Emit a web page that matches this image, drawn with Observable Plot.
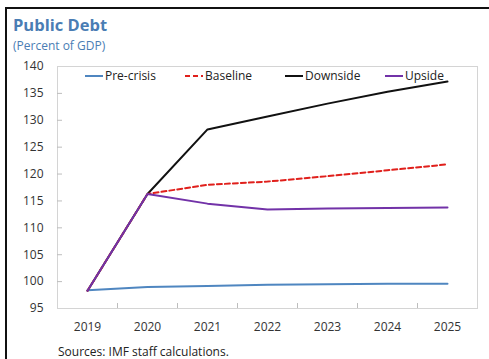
<!DOCTYPE html>
<html>
<head>
<meta charset="utf-8">
<script src="https://cdn.jsdelivr.net/npm/d3@7"></script>
<script src="https://cdn.jsdelivr.net/npm/@observablehq/plot@0.6"></script>
<style>
  html, body { margin: 0; padding: 0; background: #fff; }
  #wrap { position: relative; width: 489px; height: 359px; overflow: hidden; font-family: "Open Sans", "Noto Sans", sans-serif; }
  #wrap > svg { position: absolute; left: 0; top: 0; }
  .bTop { position: absolute; left: 5px; top: 7px; width: 484px; height: 2px; background: #111; }
  .bLeft { position: absolute; left: 5px; top: 7px; width: 2px; height: 352px; background: #111; }
  .title { position: absolute; left: 13px; top: 13px; font-size: 16.5px; font-weight: 700; color: #4a7db4; }
  .subtitle { position: absolute; left: 13px; top: 37px; font-size: 12px; color: #4a7db4; }
  .source { position: absolute; left: 58px; top: 343px; font-size: 12px; color: #222; }
  .legend { position: absolute; left: 85px; top: 67px; display: flex; font-size: 12px; color: #222; z-index: 2; }
  .legend .item { width: 100px; display: flex; align-items: center; }
  .legend .item svg { display: block; margin-right: 2px; }
</style>
</head>
<body>
<div id="wrap">
  <div class="bTop"></div>
  <div class="bLeft"></div>
  <div class="title">Public Debt</div>
  <div class="subtitle">(Percent of GDP)</div>
  <div class="legend" id="legend"></div>
  <div class="source">Sources: IMF staff calculations.</div>
</div>
<script>
const years = [2019, 2020, 2021, 2022, 2023, 2024, 2025];
const preCrisis = [98.4, 99.0, 99.2, 99.4, 99.5, 99.6, 99.6];
const baseline  = [98.3, 116.3, 118.0, 118.6, 119.6, 120.7, 121.8];
const downside  = [98.3, 116.3, 128.3, 130.7, 133.1, 135.3, 137.2];
const upside    = [98.3, 116.3, 114.5, 113.4, 113.6, 113.7, 113.8];
const yTicks = [95, 100, 105, 110, 115, 120, 125, 130, 135, 140];

const seriesNames = ["Pre-crisis", "Baseline", "Downside", "Upside"];
const seriesColors = ["#4f86c0", "#e0201c", "#111111", "#7232a8"];
const seriesDash = [null, "5,3", null, null];
const seriesValues = [preCrisis, baseline, downside, upside];

const rows = (vals) => years.map((y, i) => ({year: y, value: vals[i]}));
const bounds = years.slice(1).map(y => y - 0.5);

const drawOrder = [0, 2, 1, 3];

const chart = Plot.plot({
  width: 489,
  height: 359,
  marginLeft: 57,
  marginRight: 12,
  marginTop: 66,
  marginBottom: 51,
  style: {fontFamily: "'Open Sans', 'Noto Sans', sans-serif", fontSize: "12px", color: "#333", background: "transparent"},
  x: {domain: [2018.5, 2025.5]},
  y: {domain: [95, 140]},
  marks: [
    Plot.frame({stroke: "#d4d4d4", strokeWidth: 1}),
    Plot.axisY({ticks: yTicks, tickSize: 0, tickPadding: 14, label: null, fill: "#333"}),
    Plot.axisY({ticks: yTicks.slice(1, -1), tickSize: -5, text: null, label: null, stroke: "#bdbdbd"}),
    Plot.axisX({ticks: years, tickFormat: d => String(d), tickSize: 0, tickPadding: 14, label: null, fill: "#333"}),
    Plot.axisX({ticks: bounds, tickSize: -5, text: null, label: null, stroke: "#bdbdbd"}),
    ...drawOrder.map(i => Plot.line(rows(seriesValues[i]), {
      x: "year", y: "value", stroke: seriesColors[i], strokeWidth: 2,
      strokeDasharray: seriesDash[i] || undefined, strokeLinejoin: "miter"
    }))
  ]
});
document.getElementById("wrap").appendChild(chart);

const legend = document.getElementById("legend");
seriesNames.forEach((name, i) => {
  const item = document.createElement("div");
  item.className = "item";
  item.innerHTML = `<svg width="18" height="4"><line x1="0" y1="2" x2="18" y2="2" stroke="${seriesColors[i]}" stroke-width="2" ${seriesDash[i] ? `stroke-dasharray="${seriesDash[i]}"` : ""}/></svg><span>${name}</span>`;
  legend.appendChild(item);
});
</script>
</body>
</html>
